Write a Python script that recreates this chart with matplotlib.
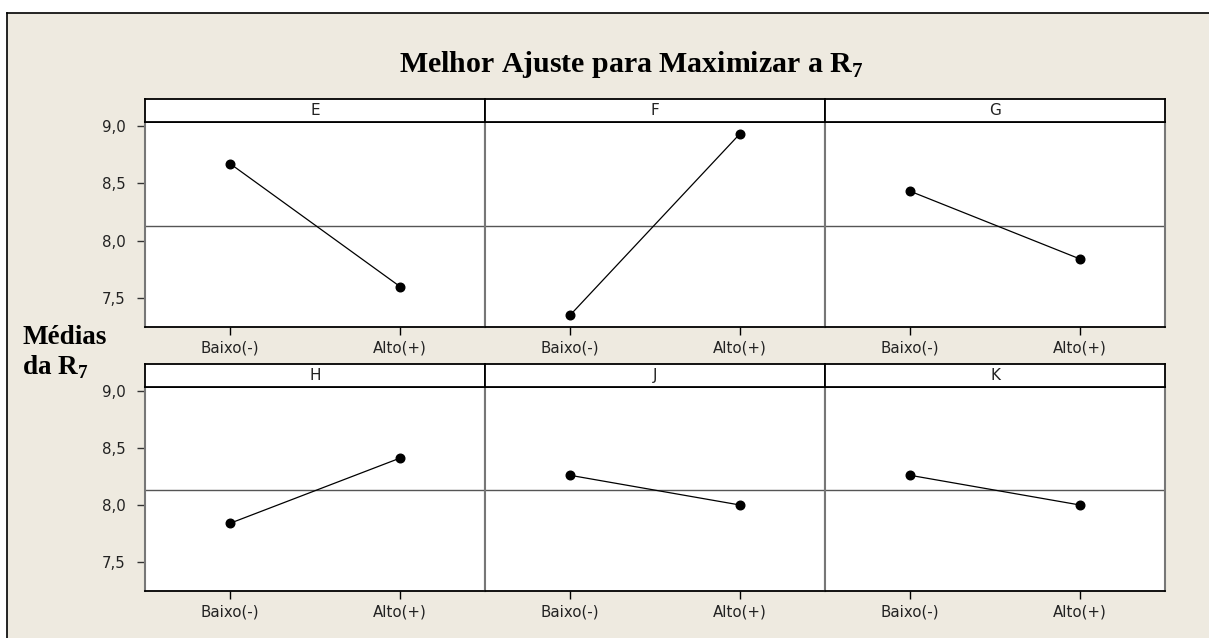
import matplotlib
matplotlib.use("Agg")
import matplotlib.pyplot as plt
from matplotlib.patches import Rectangle
from matplotlib.lines import Line2D

# ---- data ----
factors = ["E", "F", "G", "H", "J", "K"]
levels = ["Baixo(-)", "Alto(+)"]
baixo = [8.67, 7.35, 8.43, 7.84, 8.26, 8.26]
alto = [7.60, 8.93, 7.84, 8.41, 8.00, 8.00]
grand_mean = 8.13
y_ticks = [7.5, 8.0, 8.5, 9.0]
y_tick_labels = ["7,5", "8,0", "8,5", "9,0"]
title = "Melhor Ajuste para Maximizar a R$_{\\mathbf{7}}$"
ylabel = "Médias\nda R$_{\\mathbf{7}}$"

plt.rcParams["mathtext.fontset"] = "custom"
plt.rcParams["mathtext.rm"] = "Liberation Serif"
plt.rcParams["mathtext.bf"] = "Liberation Serif:bold"

W, H = 1209, 638
BG = "#EEEAE0"
fig = plt.figure(figsize=(W / 100, H / 100), dpi=100)
fig.patch.set_facecolor("white")

def fx(x):
    return x / W

def fy(y):
    return 1 - y / H

# outer beige frame (left and top edges visible only)
fig.patches.append(Rectangle((fx(7), -0.5), 2.0, fy(13) + 0.5,
                             transform=fig.transFigure, facecolor=BG,
                             edgecolor="none", zorder=-10))
fig.lines.append(Line2D([fx(7), fx(7)], [0, fy(13)], transform=fig.transFigure,
                        color="black", lw=1.2))
fig.lines.append(Line2D([fx(7), 1], [fy(13), fy(13)], transform=fig.transFigure,
                        color="black", lw=1.2))

cols = [(145, 485), (485, 825), (825, 1165)]
rows = [dict(strip=(99, 122), plot=(122, 327)),
        dict(strip=(364, 387), plot=(387, 591))]

grey = "#777777"
tick_font = dict(fontsize=10.8, family="DejaVu Sans", color="#222222")
for i, fac in enumerate(factors):
    r, c = divmod(i, 3)
    x0, x1 = cols[c]
    st0, st1 = rows[r]["strip"]
    p0, p1 = rows[r]["plot"]
    ax = fig.add_axes([fx(x0), fy(p1), fx(x1) - fx(x0), fy(p0) - fy(p1)])
    ax.set_facecolor("white")
    ax.set_xlim(0.5, 2.5)
    ax.set_ylim(7.248, 9.032)
    ax.axhline(grand_mean, color="#555555", lw=1.0, zorder=1)
    ax.plot([1, 2], [baixo[i], alto[i]], color="black", lw=0.9,
            marker="o", markersize=6.2, zorder=3)
    ax.set_xticks([1, 2])
    ax.set_xticklabels(levels, **tick_font)
    ax.tick_params(axis="x", length=6, width=1, pad=4, color="black")
    ax.set_yticks(y_ticks)
    if c == 0:
        ax.set_yticklabels(y_tick_labels, **tick_font)
        ax.tick_params(axis="y", length=6, width=1, pad=8, color="#333333")
    else:
        ax.tick_params(axis="y", length=0, labelleft=False)
    for s in ["left", "right"]:
        ax.spines[s].set_color(grey)
        ax.spines[s].set_linewidth(1.5)
    ax.spines["bottom"].set_color("black")
    ax.spines["bottom"].set_linewidth(1.3)
    ax.spines["top"].set_color("black")
    ax.spines["top"].set_linewidth(1.3)

    sax = fig.add_axes([fx(x0), fy(st1), fx(x1) - fx(x0), fy(st0) - fy(st1)])
    sax.set_facecolor("white")
    sax.set_xticks([])
    sax.set_yticks([])
    for s in sax.spines.values():
        s.set_color("black")
        s.set_linewidth(1.3)
    sax.text(0.5, 0.5, fac, ha="center", va="center", fontsize=11,
             family="DejaVu Sans", color="#222222", transform=sax.transAxes)

fig.text(fx(631), fy(65), title, ha="center", va="center", fontsize=21.5,
         family="Liberation Serif", fontweight="bold")
fig.text(fx(22), fy(353), ylabel, ha="left", va="center", fontsize=19.5,
         family="Liberation Serif", fontweight="bold", linespacing=1.15)

fig.savefig("out.png", dpi=100, facecolor=fig.get_facecolor())
